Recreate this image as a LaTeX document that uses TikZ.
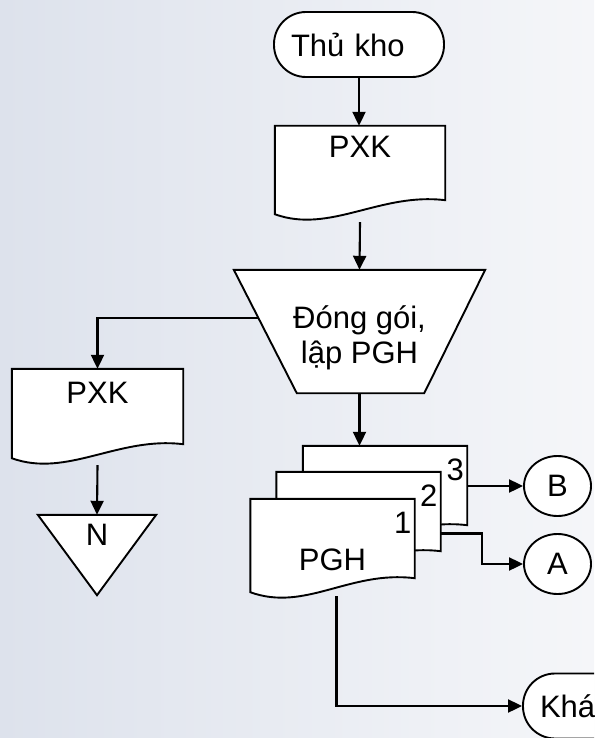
\documentclass[tikz,border=0pt]{standalone}
\usepackage{fontspec}
\setmainfont{Liberation Sans}
\usetikzlibrary{arrows.meta,calc,shapes.geometric}
\definecolor{bgL}{HTML}{DDE2EC}
\definecolor{bgR}{HTML}{F5F6F9}
% outline of a document symbol round an empty node
\newcommand\docoutline[1]{%
  \draw[shp] (#1.north west) -- (#1.north east) -- ($(#1.south east)+(0,-14)$)
    .. controls ($(#1.south east)+(-65,-22)$) and ($(#1.south west)+(55,20)$) .. (#1.south west) -- cycle;}

\begin{document}
\begin{tikzpicture}[x=1pt,y=-1pt,
  shp/.style={draw=black,line width=1.9pt,fill=white},
  arr/.style={-{Triangle[length=14pt,width=13pt]},line width=2.1pt},
  txt/.style={font=\fontsize{31}{35}\selectfont,inner sep=0pt},
  term/.style={shp,rectangle,rounded corners=32pt,minimum height=65,text width=136,inner xsep=17,align=left,font=\fontsize{31}{35}\selectfont},
  docbox/.style={rectangle,inner sep=0pt,minimum width=170,minimum height=88},
  conn/.style={shp,ellipse,inner sep=0pt,minimum width=67,minimum height=60,font=\fontsize{31}{35}\selectfont}]
\useasboundingbox (0,0) rectangle (594,738);
\clip (0,0) rectangle (594,738);
\fill[left color=bgL,right color=bgR] (0,0) rectangle (594,738);

\node[term] (kho) at (359,44.5) {Thủ kho};

\node[docbox] (pxkA) at (360,170) {};
\docoutline{pxkA}
\node[txt] at ($(pxkA.north)+(0,21)$) {PXK};

% manual operation
\node[rectangle,inner sep=0pt,minimum width=251,minimum height=123] (pack) at (359.5,331.5) {};
\coordinate (packBL) at ($(pack.south west)+(63,0)$);
\coordinate (packBR) at ($(pack.south east)+(-61,0)$);
\draw[shp] (pack.north west) -- (pack.north east) -- (packBR) -- (packBL) -- cycle;
\node[txt,align=center] (packTxt) at ($(pack.center)+(0,6)$) {Đóng gói,\\lập PGH};

\node[docbox,minimum width=171,minimum height=89] (pxkB) at (97.5,413.5) {};
\docoutline{pxkB}
\node[txt] at ($(pxkB.north)+(0,24)$) {PXK};

% file
\node[rectangle,inner sep=0pt,minimum width=118,minimum height=80] (nTri) at (97,555) {};
\draw[shp] (nTri.north west) -- (nTri.north east) -- (nTri.south) -- cycle;
\node[txt] at ($(nTri.north)+(0,20)$) {N};

% three copies of PGH
\foreach \i/\x/\y in {3/385/492.5,2/358.5/518.5,1/332.5/545.5}{
  \node[docbox,minimum width=164,minimum height=93] (d\i) at (\x,\y) {};
  \docoutline{d\i}
  \node[txt] at ($(d\i.north east)+(-12,24)$) {\i};
}
\node[txt] at ($(d1.center)+(0,14.5)$) {PGH};

\node[conn] (bB) at (557.5,486) {B};
\node[conn] (aA) at (557.5,564) {A};
\node[term] (khach) at (608,706) {Khá};

\draw[arr] (kho.south) -- (kho.south |- pxkA.north);
\draw[arr] ($(pxkA.south)+(0,8)$) -- (pack.north);
\draw[arr] ($(pack.north west)!0.39!(packBL)$) -| (pxkB.north);
\draw[arr] ($(pxkB.south)+(0,7)$) -- (nTri.north);
\draw[arr] (pack.south) -- (pack.south |- d3.north);
\draw[arr] (d3.east |- bB.west) -- (bB.west);
\draw[arr] ($(d2.east)+(0,15)$) -- ++(41,0) |- (aA.west);
\draw[arr] ($(d1.south)+(4,4)$) |- (khach.west);
\end{tikzpicture}
\end{document}
